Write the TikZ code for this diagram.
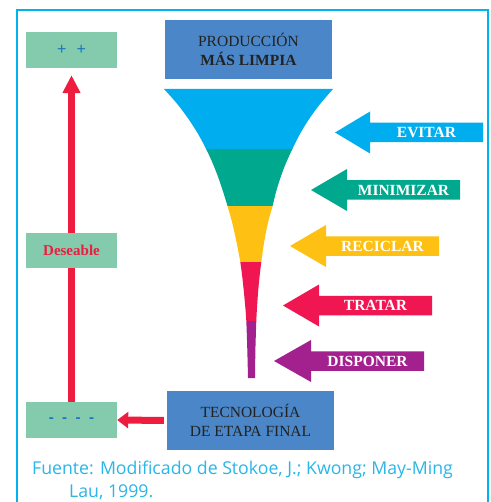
\documentclass[tikz,border=0pt]{standalone}
\usepackage{fontspec}
\setmainfont{Liberation Serif}
\newfontfamily\capfont{Open Sans}
\newfontfamily\symfont{Liberation Sans}
\usetikzlibrary{arrows.meta}
\definecolor{framecol}{HTML}{00B2EE}
\definecolor{boxgreen}{HTML}{84CBAD}
\definecolor{boxblue}{HTML}{4A86C8}
\definecolor{fblue}{HTML}{00AEEF}
\definecolor{fgreen}{HTML}{00A88E}
\definecolor{fyellow}{HTML}{FDC013}
\definecolor{fred}{HTML}{EF1651}
\definecolor{fpurple}{HTML}{A3218E}
\definecolor{arrred}{HTML}{EE1C3F}
\definecolor{symblue}{HTML}{1B75BC}
\definecolor{capcol}{HTML}{29B6E8}
\definecolor{darktext}{HTML}{222222}
\newcommand{\leftarr}[7]{%
  \fill[#2] (#4,#3) -- (#7,#3-21) -- (#7,#3-9.75) -- (#5,#3-9.75) -- (#5,#3+9.75) -- (#7,#3+9.75) -- (#7,#3+21) -- cycle;
  \node[arrtext] (#1) at ({(#7+#5)/2},#3) {#6};}
\begin{document}
\begin{tikzpicture}[x=1pt,y=-1pt,
  greenbox/.style={fill=boxgreen, minimum width=91pt, inner sep=0pt},
  bluebox/.style={fill=boxblue, minimum width=167pt, minimum height=59pt, inner sep=0pt, align=center, text=darktext, font=\fontsize{15.5}{19}\selectfont},
  arrtext/.style={text=white, font=\fontsize{15.5}{18}\selectfont\bfseries, inner sep=0pt},
  redarrow/.style={draw=arrred},
  captext/.style={text=capcol, font=\capfont\fontsize{17.7}{20}\selectfont, inner sep=0pt, anchor=base west}]
\useasboundingbox (0,0) rectangle (490,502);
\clip (0,0) rectangle (490,502);
\fill[white] (0,0) rectangle (490,502);
\draw[framecol, line width=2pt] (17,10) rectangle (488,520);
% funnel
\begin{scope}
\clip plot[smooth] coordinates {(164.0,89) (177.3,104) (188.5,119) (198.1,134) (206.1,149) (212.6,163) (218.1,177) (223.2,192) (227.5,206) (231.5,220) (234.8,234) (237.7,248) (240.3,262) (242.3,277) (243.9,292) (245.2,306) (246.3,321) (247.3,350) (248.0,378)}
  -- plot[smooth] coordinates {(255.0,378) (255.4,350) (256.3,321) (257.1,306) (258.1,292) (259.5,277) (261.3,262) (263.2,248) (265.6,234) (268.6,220) (272.6,206) (276.0,192) (280.7,177) (286.0,163) (292.4,149) (299.9,134) (309.1,119) (320.1,104) (333.0,89)} -- cycle;
\fill[fblue] (150,80) rectangle (350,149);
\fill[fgreen] (150,149) rectangle (350,206);
\fill[fyellow] (150,206) rectangle (350,262);
\fill[fred] (150,262) rectangle (350,321);
\fill[fpurple] (150,321) rectangle (350,390);
\end{scope}
% side arrows
\leftarr{evitar}{fblue}{132.5}{335}{483}{EVITAR}{370}
\leftarr{minimizar}{fgreen}{190}{311}{460}{MINIMIZAR}{347}
\leftarr{reciclar}{fyellow}{246}{290}{439}{RECICLAR}{326}
\leftarr{tratar}{fred}{305.5}{283}{432}{TRATAR}{319}
\leftarr{disponer}{fpurple}{361}{274}{424}{DISPONER}{311}
% boxes
\node[bluebox] (pml) at (248.5,49.5) {PRODUCCIÓN\\\textbf{MÁS LIMPIA}};
\node[bluebox] (tef) at (250.5,420.5) {TECNOLOGÍA\\DE ETAPA FINAL};
\node[greenbox, minimum height=36pt, text=symblue, font=\symfont\fontsize{16}{18}\selectfont] (plus) at (71.5,50) {{\spaceskip=10pt + +}};
\node[greenbox, minimum height=36pt, text=symblue, font=\symfont\bfseries\fontsize{15}{16}\selectfont] (minus) at (71.5,420) {{\spaceskip=8.5pt - - - -}};
% vertical arrow behind Deseable
\draw[redarrow, line width=6.5pt, -{Triangle[length=18pt,width=17pt]}, shorten >=7pt] (minus.north) -- (plus.south);
\node[greenbox, minimum height=35pt, text=arrred, font=\fontsize{15}{18}\selectfont\bfseries] (des) at (71.5,250.5) {Deseable};
\draw[redarrow, line width=7pt, -{Triangle[length=11pt,width=16pt]}, shorten <=3pt] (tef.west) -- (minus.east);
% caption
\node[captext] (cap1) at (32,474) {Fuente: Modificado de Stokoe, J.; Kwong; May-Ming};
\node[captext] (cap2) at (69,497) {Lau, 1999.};
\end{tikzpicture}
\end{document}
